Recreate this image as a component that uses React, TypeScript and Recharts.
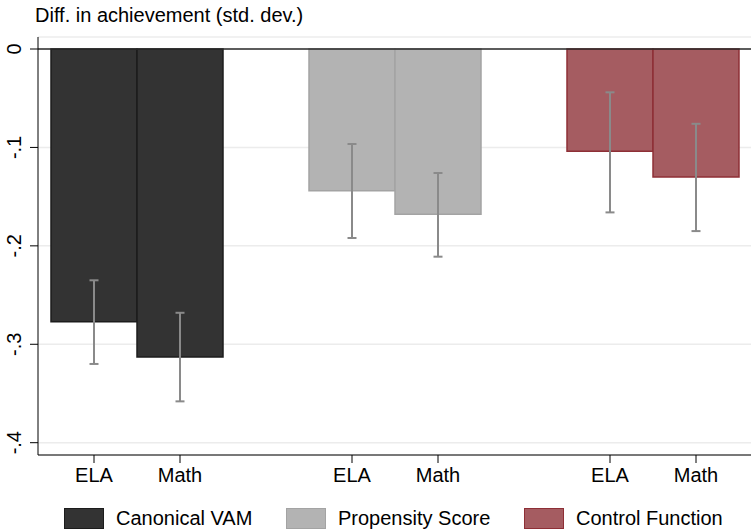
// Diff. in achievement — grouped bars with CIs, Stata-like plain scheme

import { BarChart, Bar, XAxis, YAxis, CartesianGrid, ReferenceLine, ErrorBar, Cell } from 'recharts'

const FONT = '"Liberation Sans", Arial, sans-serif'

const methods = ['Canonical VAM', 'Propensity Score', 'Control Function']
const subjects = ['ELA', 'Math']
const estimates = [-0.277, -0.313, -0.144, -0.168, -0.104, -0.130]
const ciLow = [-0.320, -0.358, -0.192, -0.211, -0.166, -0.185]
const ciHigh = [-0.235, -0.268, -0.0965, -0.126, -0.044, -0.076]
const yTicks = [0, -0.1, -0.2, -0.3, -0.4]

const FILLS = ['#333333', '#b3b3b3', '#a55c61']
const STROKES = ['#1c1c1c', '#a3a3a3', '#8e2f36']

type Row = { id: string; label: string; group: number; value: number | null; err: [number, number] | null }

// 2 bars per method, blank slot between methods
const rows: Row[] = []
methods.forEach((_, g) => {
  if (g > 0) rows.push({ id: `gap${g}`, label: '', group: -1, value: null, err: null })
  subjects.forEach((s, j) => {
    const i = g * subjects.length + j
    rows.push({
      id: `${g}-${s}`, label: s, group: g, value: estimates[i],
      err: [estimates[i] - ciLow[i], ciHigh[i] - estimates[i]],
    })
  })
})

const fmtY = (v: number) => (v === 0 ? '0' : v.toFixed(1).replace('0.', '.'))

function YTick({ x, y, payload }: any) {
  return (
    <text x={x - 7} y={y} transform={`rotate(-90 ${x - 7} ${y})`} textAnchor="middle"
      style={{ fontSize: 20, fontFamily: FONT, fill: '#000' }}>
      {fmtY(payload.value)}
    </text>
  )
}

function XTick({ x, y, payload }: any) {
  const row = rows.find((r) => r.id === payload.value)
  if (!row || !row.label) return null
  return (
    <g>
      <line x1={x} x2={x} y1={y} y2={y + 8} stroke="#000" strokeWidth={1} />
      <text x={x} y={y + 27} textAnchor="middle" style={{ fontSize: 20, fontFamily: FONT, fill: '#000' }}>
        {row.label}
      </text>
    </g>
  )
}

export default function App() {
  return (
    <div style={{ position: 'absolute', left: 0, top: 0, width: 751, height: 531, background: '#fff', fontFamily: FONT }}>
      <div style={{ position: 'absolute', left: 35, top: 3, fontSize: 20, lineHeight: '24px', color: '#000', whiteSpace: 'nowrap' }}>
        Diff. in achievement (std. dev.)
      </div>
      <BarChart width={751} height={531} data={rows} barCategoryGap={0} barGap={0}
        margin={{ top: 37, right: 0, left: 0, bottom: 46 }}>
        <CartesianGrid vertical={false} stroke="#ececec" strokeWidth={1.5} />
        <XAxis dataKey="id" type="category" height={30} padding={{ left: 13, right: 12 }}
          axisLine={{ stroke: '#000' }} tickLine={false} tickSize={0} tickMargin={0}
          tick={<XTick />} interval={0} />
        <YAxis width={38} type="number" domain={[-0.4125, 0.0122]} ticks={yTicks} allowDataOverflow
          axisLine={{ stroke: '#000' }} tickLine={{ stroke: '#000' }} tickSize={8} tick={<YTick />} />
        <ReferenceLine y={0} stroke="#2a2a2a" strokeWidth={1.5} ifOverflow="extendDomain" />
        <Bar dataKey="value" isAnimationActive={false} strokeWidth={1.5}>
          {rows.map((r, i) => (
            <Cell key={i} fill={r.group >= 0 ? FILLS[r.group] : 'none'}
              stroke={r.group >= 0 ? STROKES[r.group] : 'none'} />
          ))}
          <ErrorBar dataKey="err" width={4.5} stroke="#8a8a8a" strokeWidth={2} direction="y" />
        </Bar>
      </BarChart>
      {methods.map((m, g) => (
        <div key={m} style={{ position: 'absolute', top: 508, left: [64, 286, 524][g], display: 'flex', alignItems: 'center' }}>
          <div style={{ width: 38, height: 19, background: FILLS[g], border: `1px solid ${STROKES[g]}` }} />
          <span style={{ marginLeft: 12, fontSize: 20, lineHeight: '21px', color: '#000', whiteSpace: 'nowrap' }}>{m}</span>
        </div>
      ))}
    </div>
  )
}
